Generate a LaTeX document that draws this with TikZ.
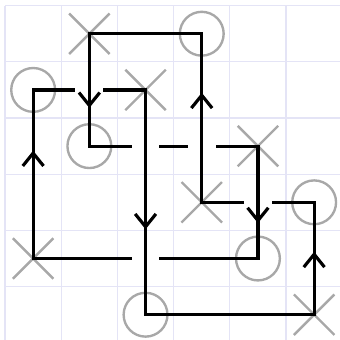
\documentclass[tikz,border=0pt]{standalone}
\usetikzlibrary{shapes.misc,arrows.meta,decorations.markings,calc}
\definecolor{gridc}{RGB}{228,228,246}
\definecolor{markc}{RGB}{168,168,168}
\tikzset{
  gridline/.style={draw=gridc, line width=0.6pt},
  omark/.style={circle, draw=markc, line width=1.2pt, minimum size=0.78cm, inner sep=0pt, outer sep=0pt},
  xmark/.style={cross out, draw=markc, line width=1.2pt, minimum size=0.72cm, inner sep=0pt, outer sep=0pt},
  strand/.style={draw=black, line width=1.6pt, line cap=rect},
  arr/.style={postaction={decorate}, decoration={markings, mark=at position #1 with {\arrow{Straight Barb[length=6.5pt,width=10.5pt]}}}},
}
\begin{document}
\begin{tikzpicture}
\useasboundingbox (-0.09,0.1) rectangle (5.96,-5.95);
\draw[gridline] (0,-5.95) grid (5.96,0);
% X marks
\node[xmark] (x10) at (1.5,-0.5) {};
\node[xmark] (x21) at (2.5,-1.5) {};
\node[xmark] (x42) at (4.5,-2.5) {};
\node[xmark] (x33) at (3.5,-3.5) {};
\node[xmark] (x04) at (0.5,-4.5) {};
\node[xmark] (x55) at (5.5,-5.5) {};
% O marks
\node[omark] (o30) at (3.5,-0.5) {};
\node[omark] (o01) at (0.5,-1.5) {};
\node[omark] (o12) at (1.5,-2.5) {};
\node[omark] (o53) at (5.5,-3.5) {};
\node[omark] (o44) at (4.5,-4.5) {};
\node[omark] (o25) at (2.5,-5.5) {};
% horizontal strands
\draw[strand] (x10.center) -- (o30.center);
\draw[strand] (o01.center) -- ++(0.725,0);
\draw[strand] (x21.center) -- ++(-0.725,0);
\draw[strand] (o12.center) -- ++(0.725,0);
\draw[strand] ($(o12.center)+(1.275,0)$) -- ++(0.45,0);
\draw[strand] (x42.center) -- ++(-0.725,0);
\draw[strand] (x33.center) -- ++(0.725,0);
\draw[strand] (o53.center) -- ++(-0.725,0);
\draw[strand] (x04.center) -- ++(1.725,0);
\draw[strand] (o44.center) -- ++(-1.725,0);
\draw[strand] (o25.center) -- (x55.center);
% vertical strands
\draw[strand, arr=0.64] (x04.center) -- (o01.center);
\draw[strand, arr=0.66] (x10.center) -- (o12.center);
\draw[strand, arr=0.62] (x21.center) -- (o25.center);
\draw[strand, arr=0.65] (x33.center) -- (o30.center);
\draw[strand, arr=0.685] (x42.center) -- (o44.center);
\draw[strand, arr=0.56] (x55.center) -- (o53.center);
\end{tikzpicture}
\end{document}
